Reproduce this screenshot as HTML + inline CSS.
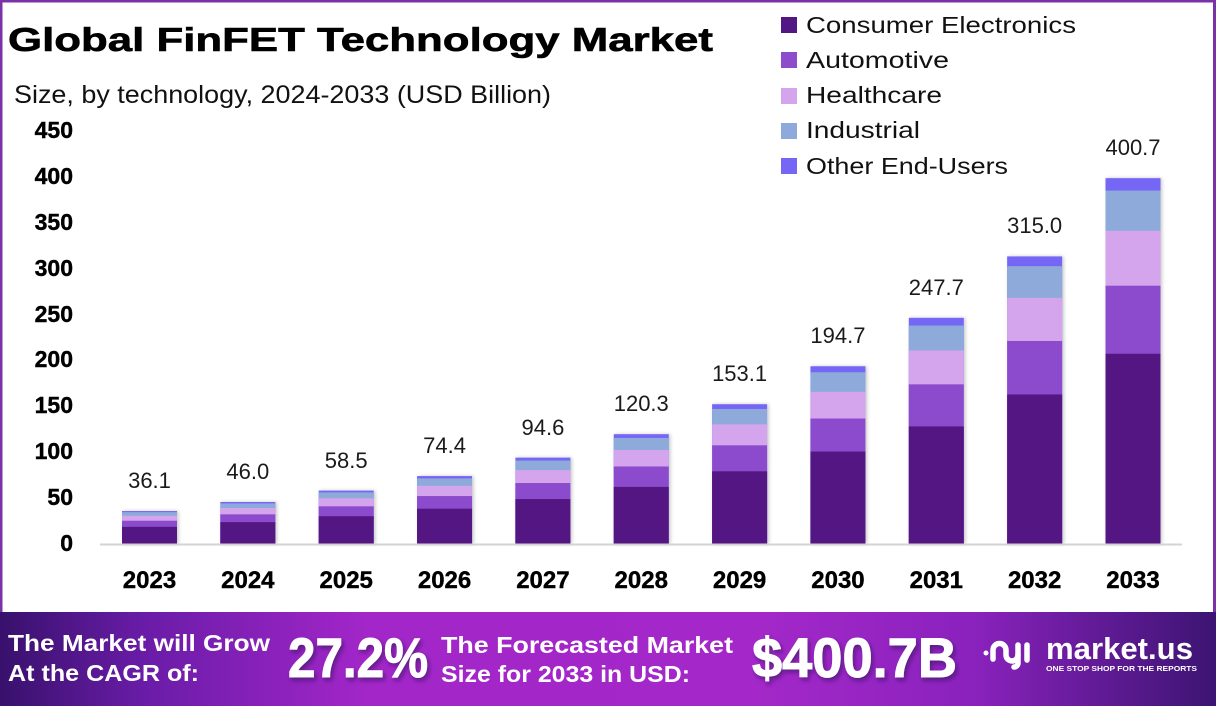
<!DOCTYPE html>
<html><head><meta charset="utf-8"><style>
html,body{margin:0;padding:0;background:#fff;}
svg{display:block;}
text{font-family:"Liberation Sans",sans-serif;}
</style></head><body>
<svg width="1216" height="706" viewBox="0 0 1216 706" xmlns="http://www.w3.org/2000/svg">
<defs>
<linearGradient id="bn" x1="0" x2="1" y1="0" y2="0">
<stop offset="0" stop-color="#38116c"/>
<stop offset="0.12" stop-color="#6a1ca8"/>
<stop offset="0.3" stop-color="#a226c8"/>
<stop offset="0.62" stop-color="#a428c9"/>
<stop offset="0.8" stop-color="#8a22bd"/>
<stop offset="1" stop-color="#3c1472"/>
</linearGradient>
<filter id="sh" x="-20%" y="-5%" width="140%" height="110%"><feDropShadow dx="1.5" dy="0" stdDeviation="1.8" flood-color="#000" flood-opacity="0.22"/></filter>
<filter id="ts" x="-10%" y="-10%" width="130%" height="140%"><feDropShadow dx="2" dy="3" stdDeviation="2" flood-color="#2a0a50" flood-opacity="0.55"/></filter>
</defs>
<rect x="0" y="0" width="1216" height="706" fill="#fff"/>
<!-- border -->
<rect x="0" y="0" width="1216" height="2.5" fill="#7b32a8"/>
<rect x="0" y="0" width="2.5" height="612" fill="#7b32a8"/>
<rect x="1213" y="0" width="3" height="612" fill="#7b32a8"/>

<!-- title -->
<text x="8" y="51" font-size="33" font-weight="bold" fill="#000" stroke="#000" stroke-width="0.6" textLength="705" lengthAdjust="spacingAndGlyphs">Global FinFET Technology Market</text>
<text x="14" y="103" font-size="25" fill="#111" textLength="537" lengthAdjust="spacingAndGlyphs">Size, by technology, 2024-2033 (USD Billion)</text>

<!-- legend -->
<rect x="781" y="17" width="16" height="16" fill="#521782"/>
<rect x="781" y="52" width="16" height="16" fill="#8c4ccc"/>
<rect x="781" y="88" width="16" height="16" fill="#d4a5ec"/>
<rect x="781" y="123" width="16" height="16" fill="#8eaadb"/>
<rect x="781" y="158" width="16" height="16" fill="#7566f5"/>
<g font-size="23" fill="#111">
<text x="806" y="33" textLength="270" lengthAdjust="spacingAndGlyphs">Consumer Electronics</text>
<text x="806" y="68" textLength="143" lengthAdjust="spacingAndGlyphs">Automotive</text>
<text x="806" y="103" textLength="136" lengthAdjust="spacingAndGlyphs">Healthcare</text>
<text x="806" y="138" textLength="114" lengthAdjust="spacingAndGlyphs">Industrial</text>
<text x="806" y="174" textLength="202" lengthAdjust="spacingAndGlyphs">Other End-Users</text>
</g>

<!-- y ticks -->
<g font-size="23" font-weight="bold" fill="#000" text-anchor="end" stroke="#000" stroke-width="0.4">
<text x="73" y="138">450</text>
<text x="73" y="184">400</text>
<text x="73" y="230">350</text>
<text x="73" y="276">300</text>
<text x="73" y="322">250</text>
<text x="73" y="367">200</text>
<text x="73" y="413">150</text>
<text x="73" y="459">100</text>
<text x="73" y="505">50</text>
<text x="73" y="551">0</text>
</g>

<!-- bars -->
<g filter="url(#sh)">
<g>
<rect x="122" y="511.04" width="55" height="32.96" fill="#7566f5"/>
<rect x="122" y="512.16" width="55" height="31.84" fill="#8eaadb"/>
<rect x="122" y="515.79" width="55" height="28.21" fill="#d4a5ec"/>
<rect x="122" y="520.73" width="55" height="23.27" fill="#8c4ccc"/>
<rect x="122" y="526.86" width="55" height="17.14" fill="#521782"/>
</g>
<g>
<rect x="220.35" y="502.0" width="55" height="42.0" fill="#7566f5"/>
<rect x="220.35" y="503.43" width="55" height="40.57" fill="#8eaadb"/>
<rect x="220.35" y="508.05" width="55" height="35.95" fill="#d4a5ec"/>
<rect x="220.35" y="514.35" width="55" height="29.65" fill="#8c4ccc"/>
<rect x="220.35" y="522.16" width="55" height="21.84" fill="#521782"/>
</g>
<g>
<rect x="318.7" y="490.59" width="55" height="53.41" fill="#7566f5"/>
<rect x="318.7" y="492.41" width="55" height="51.59" fill="#8eaadb"/>
<rect x="318.7" y="498.29" width="55" height="45.71" fill="#d4a5ec"/>
<rect x="318.7" y="506.30" width="55" height="37.70" fill="#8c4ccc"/>
<rect x="318.7" y="516.23" width="55" height="27.77" fill="#521782"/>
</g>
<g>
<rect x="417.05" y="476.08" width="55" height="67.92" fill="#7566f5"/>
<rect x="417.05" y="478.39" width="55" height="65.61" fill="#8eaadb"/>
<rect x="417.05" y="485.86" width="55" height="58.14" fill="#d4a5ec"/>
<rect x="417.05" y="496.05" width="55" height="47.95" fill="#8c4ccc"/>
<rect x="417.05" y="508.68" width="55" height="35.32" fill="#521782"/>
</g>
<g>
<rect x="515.4" y="457.63" width="55" height="86.37" fill="#7566f5"/>
<rect x="515.4" y="460.57" width="55" height="83.43" fill="#8eaadb"/>
<rect x="515.4" y="470.07" width="55" height="73.93" fill="#d4a5ec"/>
<rect x="515.4" y="483.03" width="55" height="60.97" fill="#8c4ccc"/>
<rect x="515.4" y="499.09" width="55" height="44.91" fill="#521782"/>
</g>
<g>
<rect x="613.75" y="434.18" width="55" height="109.82" fill="#7566f5"/>
<rect x="613.75" y="437.91" width="55" height="106.09" fill="#8eaadb"/>
<rect x="613.75" y="449.99" width="55" height="94.01" fill="#d4a5ec"/>
<rect x="613.75" y="466.46" width="55" height="77.54" fill="#8c4ccc"/>
<rect x="613.75" y="486.89" width="55" height="57.11" fill="#521782"/>
</g>
<g>
<rect x="712.1" y="404.21" width="55" height="139.79" fill="#7566f5"/>
<rect x="712.1" y="408.96" width="55" height="135.04" fill="#8eaadb"/>
<rect x="712.1" y="424.34" width="55" height="119.66" fill="#d4a5ec"/>
<rect x="712.1" y="445.31" width="55" height="98.69" fill="#8c4ccc"/>
<rect x="712.1" y="471.31" width="55" height="72.69" fill="#521782"/>
</g>
<g>
<rect x="810.45" y="366.25" width="55" height="177.75" fill="#7566f5"/>
<rect x="810.45" y="372.29" width="55" height="171.71" fill="#8eaadb"/>
<rect x="810.45" y="391.84" width="55" height="152.16" fill="#d4a5ec"/>
<rect x="810.45" y="418.50" width="55" height="125.50" fill="#8c4ccc"/>
<rect x="810.45" y="451.56" width="55" height="92.44" fill="#521782"/>
</g>
<g>
<rect x="908.8" y="317.85" width="55" height="226.15" fill="#7566f5"/>
<rect x="908.8" y="325.54" width="55" height="218.46" fill="#8eaadb"/>
<rect x="908.8" y="350.42" width="55" height="193.58" fill="#d4a5ec"/>
<rect x="908.8" y="384.34" width="55" height="159.66" fill="#8c4ccc"/>
<rect x="908.8" y="426.40" width="55" height="117.60" fill="#521782"/>
</g>
<g>
<rect x="1007.15" y="256.4" width="55" height="287.6" fill="#7566f5"/>
<rect x="1007.15" y="266.18" width="55" height="277.82" fill="#8eaadb"/>
<rect x="1007.15" y="297.82" width="55" height="246.18" fill="#d4a5ec"/>
<rect x="1007.15" y="340.96" width="55" height="203.04" fill="#8c4ccc"/>
<rect x="1007.15" y="394.45" width="55" height="149.55" fill="#521782"/>
</g>
<g>
<rect x="1105.5" y="178.15" width="55" height="365.85" fill="#7566f5"/>
<rect x="1105.5" y="190.59" width="55" height="353.41" fill="#8eaadb"/>
<rect x="1105.5" y="230.83" width="55" height="313.17" fill="#d4a5ec"/>
<rect x="1105.5" y="285.71" width="55" height="258.29" fill="#8c4ccc"/>
<rect x="1105.5" y="353.76" width="55" height="190.24" fill="#521782"/>
</g>
</g>

<!-- axis -->
<rect x="100" y="543.5" width="1082" height="2" fill="#d3d3d3"/>

<!-- value labels -->
<g font-size="22" fill="#1a1a1a" text-anchor="middle">
<text x="149.5" y="488">36.1</text>
<text x="247.85" y="479">46.0</text>
<text x="346.2" y="468">58.5</text>
<text x="444.55" y="453">74.4</text>
<text x="542.9" y="435">94.6</text>
<text x="641.25" y="411">120.3</text>
<text x="739.6" y="381">153.1</text>
<text x="837.95" y="343">194.7</text>
<text x="936.3" y="295">247.7</text>
<text x="1034.65" y="233">315.0</text>
<text x="1133" y="155">400.7</text>
</g>

<!-- year labels -->
<g font-size="24" font-weight="bold" fill="#000" text-anchor="middle" stroke="#000" stroke-width="0.4">
<text x="149.5" y="588">2023</text>
<text x="247.85" y="588">2024</text>
<text x="346.2" y="588">2025</text>
<text x="444.55" y="588">2026</text>
<text x="542.9" y="588">2027</text>
<text x="641.25" y="588">2028</text>
<text x="739.6" y="588">2029</text>
<text x="837.95" y="588">2030</text>
<text x="936.3" y="588">2031</text>
<text x="1034.65" y="588">2032</text>
<text x="1133" y="588">2033</text>
</g>

<!-- banner -->
<rect x="0" y="612" width="1216" height="94" fill="url(#bn)"/>
<g fill="#fff" font-weight="bold">
<text x="8" y="651" font-size="23" textLength="262" lengthAdjust="spacingAndGlyphs">The Market will Grow</text>
<text x="8" y="681" font-size="23" textLength="191" lengthAdjust="spacingAndGlyphs">At the CAGR of:</text>
<text x="288" y="677" font-size="56" stroke="#fff" stroke-width="1" textLength="140" lengthAdjust="spacingAndGlyphs" filter="url(#ts)">27.2%</text>
<text x="441" y="653" font-size="23" textLength="292" lengthAdjust="spacingAndGlyphs">The Forecasted Market</text>
<text x="441" y="682" font-size="23" textLength="249" lengthAdjust="spacingAndGlyphs">Size for 2033 in USD:</text>
<text x="752" y="677" font-size="56" stroke="#fff" stroke-width="1" textLength="205" lengthAdjust="spacingAndGlyphs" filter="url(#ts)">$400.7B</text>
<text x="1046" y="659" font-size="31" textLength="147" lengthAdjust="spacingAndGlyphs">market.us</text>
<text x="1046" y="671" font-size="7" textLength="151" lengthAdjust="spacingAndGlyphs">ONE STOP SHOP FOR THE REPORTS</text>
</g>
<!-- logo icon -->
<g fill="none" stroke="#fff" stroke-width="5.5" stroke-linecap="round">
<circle cx="986" cy="653" r="2.5" fill="#fff" stroke="none"/>
<path d="M993 659 V650 a6.5 6.5 0 0 1 13 0 V655 a6 6 0 0 0 12 0 V645"/>
<path d="M1018 655 V663 a4 4 0 0 1 -4 4"/>
<path d="M1027 645 V660"/>
</g>
</svg>
</body></html>
